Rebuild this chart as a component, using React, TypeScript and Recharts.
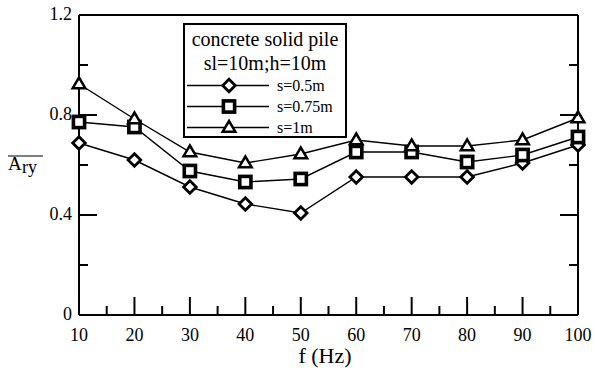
import { LineChart, Line, XAxis, YAxis, Legend } from "recharts"

const freqs = [10, 20, 30, 40, 50, 60, 70, 80, 90, 100]
const s05 = [0.688, 0.62, 0.512, 0.444, 0.408, 0.552, 0.552, 0.552, 0.608, 0.68]
const s075 = [0.772, 0.752, 0.576, 0.532, 0.544, 0.652, 0.652, 0.612, 0.64, 0.712]
const s1 = [0.924, 0.784, 0.652, 0.608, 0.644, 0.7, 0.676, 0.676, 0.7, 0.788]

const xTicks = [10, 15, 20, 25, 30, 35, 40, 45, 50, 55, 60, 65, 70, 75, 80, 85, 90, 95, 100]
const xMajor = [10, 20, 30, 40, 50, 60, 70, 80, 90, 100]
const yTicks = [0, 0.2, 0.4, 0.6, 0.8, 1.0, 1.2]
const yMajor = [0, 0.4, 0.8, 1.2]

const titleLines = ["concrete solid pile", "sl=10m;h=10m"]
const seriesNames = { s05: "s=0.5m", s075: "s=0.75m", s1: "s=1m" }

const data = freqs.map((f, i) => ({ f, s05: s05[i], s075: s075[i], s1: s1[i] }))

const FONT = "'Liberation Serif', serif"
const PLOT = { left: 79, right: 578, top: 15, bottom: 315 }

function Marker({ kind, cx, cy }: { kind: string; cx: number; cy: number }) {
  if (kind === "s05") {
    const r = 6.3
    return (
      <path
        d={`M${cx},${cy - r} L${cx + r},${cy} L${cx},${cy + r} L${cx - r},${cy} Z`}
        fill="#fff" stroke="#000" strokeWidth={2.8}
      />
    )
  }
  if (kind === "s075") {
    const r = 5.6
    return <rect x={cx - r} y={cy - r} width={r * 2} height={r * 2} fill="#fff" stroke="#000" strokeWidth={3.6}/>
  }
  return (
    <path
      d={`M${cx},${cy - 6.5} L${cx + 6.3},${cy + 4.2} L${cx - 6.3},${cy + 4.2} Z`}
      fill="#fff" stroke="#000" strokeWidth={2.5}
    />
  )
}

const dotFor = (kind: string) => (p: any) =>
  <Marker key={`${kind}-${p.index}`} kind={kind} cx={p.cx} cy={p.cy}/>

function XTick(props: any) {
  const { x, payload } = props
  const major = xMajor.includes(payload.value)
  return (
    <g>
      <line x1={x} x2={x} y1={PLOT.bottom} y2={PLOT.bottom - (major ? 18 : 9)} stroke="#000" strokeWidth={2}/>
      {major && (
        <text x={x} y={341} textAnchor="middle" style={{ fontFamily: FONT }} fontSize={18} fill="#000">
          {payload.value}
        </text>
      )}
    </g>
  )
}

function YTick(props: any) {
  const { y, payload } = props
  const major = yMajor.includes(payload.value)
  const len = major ? 18 : 9
  return (
    <g>
      <line x1={PLOT.left} x2={PLOT.left + len} y1={y} y2={y} stroke="#000" strokeWidth={2}/>
      <line x1={PLOT.right} x2={PLOT.right - len} y1={y} y2={y} stroke="#000" strokeWidth={2}/>
      {major && (
        <text x={72} y={y} dy="0.3em" textAnchor="end" style={{ fontFamily: FONT }} fontSize={18} fill="#000">
          {payload.value === 0 ? "0" : payload.value.toFixed(1)}
        </text>
      )}
    </g>
  )
}

function YLabel() {
  return (
    <g style={{ fontFamily: FONT }} fill="#000">
      <line x1={8} x2={43} y1={156} y2={156} stroke="#000" strokeWidth={1.2}/>
      <text x={8} y={170} fontSize={19}>A</text>
      <text x={22} y={173} fontSize={18}>ry</text>
    </g>
  )
}

function LegendBox(props: any) {
  const payload = props.payload || []
  return (
    <div
      style={{
        width: 164, height: 115, boxSizing: "border-box", border: "2px solid #000",
        background: "#fff", fontFamily: FONT, color: "#000", paddingTop: 2,
      }}
    >
      {titleLines.map(t => (
        <div key={t} style={{ fontSize: 20, lineHeight: "24px", textAlign: "center", whiteSpace: "nowrap" }}>{t}</div>
      ))}
      {payload.map((e: any) => (
        <div key={e.dataKey} style={{ display: "flex", alignItems: "center", height: 21 }}>
          <svg width={92} height={21} style={{ display: "block" }}>
            <line x1={2} x2={84} y1={10.5} y2={10.5} stroke="#000" strokeWidth={1.5}/>
            <Marker kind={e.dataKey} cx={44} cy={10.5}/>
          </svg>
          <span style={{ fontSize: 16 }}>{e.value}</span>
        </div>
      ))}
    </div>
  )
}

export default function App() {
  return (
    <div style={{ position: "absolute", left: 0, top: 0, background: "#fff" }}>
      <LineChart width={595} height={372} data={data} margin={{ top: 0, right: 0, bottom: 0, left: 0 }}>
        <XAxis
          dataKey="f" type="number" domain={[10, 100]} ticks={xTicks} interval={0}
          height={57} tickLine={false} tick={<XTick/>}
          axisLine={{ stroke: "#000", strokeWidth: 2 }}
          label={{
            content: () => (
              <text x={325} y={363} textAnchor="middle" style={{ fontFamily: FONT }} fontSize={22} fill="#000">f (Hz)</text>
            ),
          }}
        />
        <XAxis
          xAxisId="top" orientation="top" type="number" domain={[10, 100]} allowDataOverflow
          height={15} tick={false} tickLine={false} axisLine={{ stroke: "#000", strokeWidth: 2 }}
        />
        <YAxis
          type="number" domain={[0, 1.2]} ticks={yTicks} interval={0} width={79}
          tickLine={false} tick={<YTick/>} axisLine={{ stroke: "#000", strokeWidth: 2 }}
          label={{ content: () => <YLabel/> }}
        />
        <YAxis
          yAxisId="right" orientation="right" type="number" domain={[0, 1.2]} allowDataOverflow
          width={17} tick={false} tickLine={false} axisLine={{ stroke: "#000", strokeWidth: 2 }}
        />
        <Legend
          layout="horizontal" verticalAlign="middle" align="center"
          content={<LegendBox/>}
          wrapperStyle={{ position: "absolute", left: 183, top: 23, width: 164, height: 115 }}
        />
        <Line dataKey="s05" name={seriesNames.s05} stroke="#000" strokeWidth={1.4} dot={dotFor("s05")} isAnimationActive={false}/>
        <Line dataKey="s075" name={seriesNames.s075} stroke="#000" strokeWidth={1.4} dot={dotFor("s075")} isAnimationActive={false}/>
        <Line dataKey="s1" name={seriesNames.s1} stroke="#000" strokeWidth={1.4} dot={dotFor("s1")} isAnimationActive={false}/>
      </LineChart>
    </div>
  )
}
